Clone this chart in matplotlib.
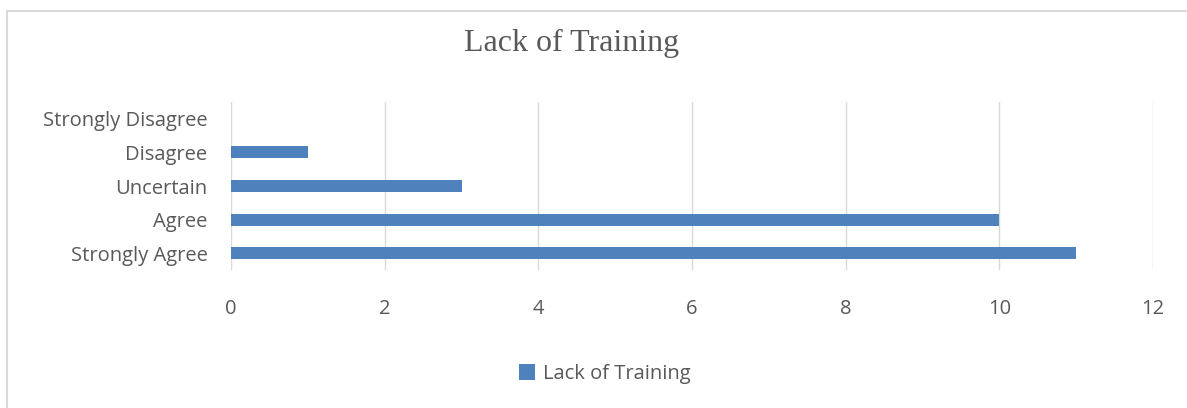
import matplotlib.pyplot as plt
from matplotlib.patches import Rectangle

categories = ['Strongly Agree', 'Agree', 'Uncertain', 'Disagree', 'Strongly Disagree']
values = [11, 10, 3, 1, 0]
series_name = 'Lack of Training'

W, H = 1187, 408
fig = plt.figure(figsize=(W / 100, H / 100), dpi=100)
ax = fig.add_axes([231 / W, 1 - 270 / H, (1153 - 231) / W, (270 - 102) / H])

bar_color = '#4F81BD'
text_color = '#595959'

ax.barh(range(len(categories)), values, height=0.36, color=bar_color, label=series_name, zorder=3)
ax.set_xlim(0, 12)
ax.set_ylim(-0.5, len(categories) - 0.5)
ax.set_xticks(range(0, 13, 2))
ax.set_yticks(range(len(categories)))
ax.set_yticklabels(categories)
ax.grid(axis='x', color='#D9D9D9', linewidth=1, zorder=0)
for s in ax.spines.values():
    s.set_visible(False)
ax.tick_params(axis='y', length=0, labelsize=14.5, labelcolor=text_color, pad=17)
ax.tick_params(axis='x', length=0, labelsize=14.5, labelcolor=text_color, pad=21)
for lab in ax.get_xticklabels() + ax.get_yticklabels():
    lab.set_family('Open Sans')

fig.text(572 / W, 1 - 43 / H, 'Lack of Training', ha='center', va='center',
         fontsize=23, family='Liberation Serif', color=text_color)

leg = fig.legend(loc='center', bbox_to_anchor=(605 / W, 1 - 374 / H), frameon=False,
                 prop={'family': 'Open Sans', 'size': 14.5}, handlelength=0.8, handleheight=0.8,
                 handletextpad=0.4)
for t in leg.get_texts():
    t.set_color(text_color)

fig.patches.append(Rectangle((7 / W, -0.1), 1.2, 1 - 11 / H + 0.1, transform=fig.transFigure,
                             fill=False, edgecolor='#D9D9D9', linewidth=1.5))

fig.savefig('out.png', dpi=100)
